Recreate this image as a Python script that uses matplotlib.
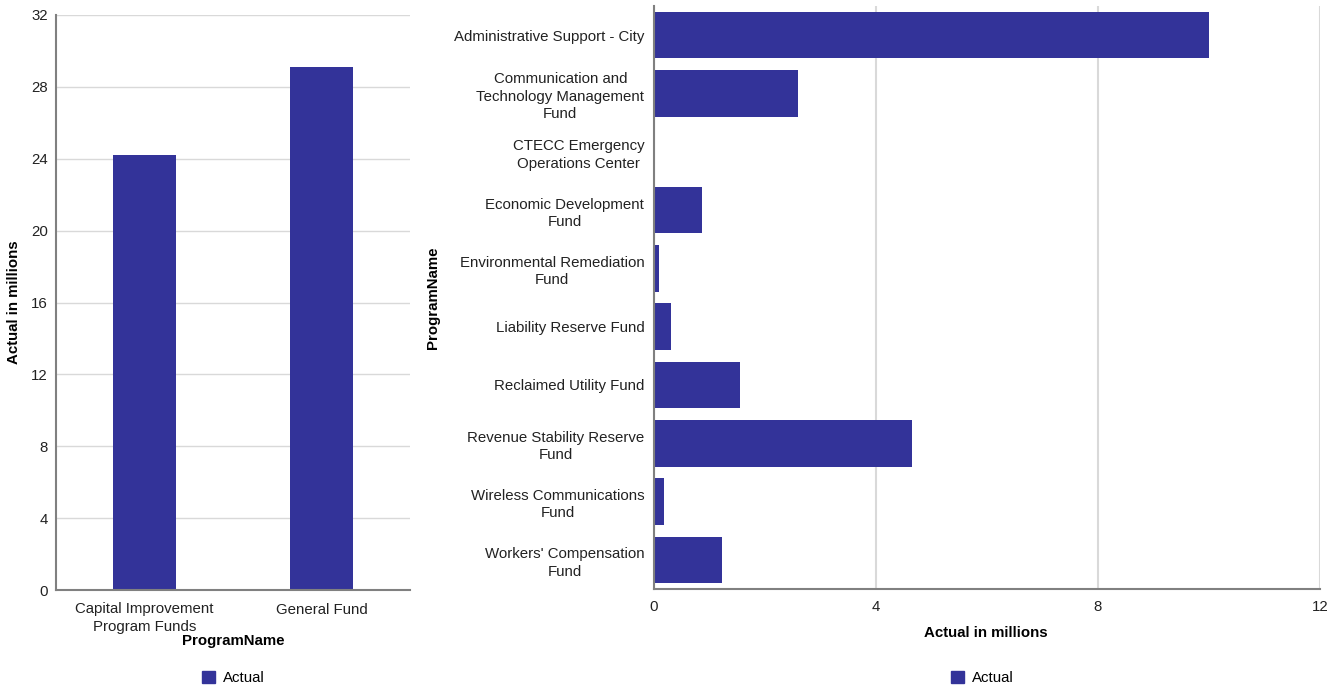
import matplotlib
matplotlib.use("Agg")
import matplotlib.pyplot as plt
from matplotlib.patches import Patch

plt.rcParams['font.family'] = ['Liberation Sans', 'DejaVu Sans']

# Summary by fund group
group_names = ["Capital Improvement\nProgram Funds", "General Fund"]
group_actual = [24.2, 29.1]

# Detail by program
program_names = [
    "Administrative Support - City",
    "Communication and\nTechnology Management\nFund",
    "CTECC Emergency\nOperations Center",
    "Economic Development\nFund",
    "Environmental Remediation\nFund",
    "Liability Reserve Fund",
    "Reclaimed Utility Fund",
    "Revenue Stability Reserve\nFund",
    "Wireless Communications\nFund",
    "Workers' Compensation\nFund",
]
program_actual = [10.0, 2.59, 0.02, 0.865, 0.09, 0.31, 1.55, 4.65, 0.18, 1.225]

left_ticks = [0, 4, 8, 12, 16, 20, 24, 28, 32]
right_ticks = [0, 4, 8, 12]

bar_color = "#333399"
grid_color = "#d9d9d9"
axis_color = "#808080"
fs = 10.8
ls = 1.3

fig = plt.figure(figsize=(13.38, 6.88), dpi=100)
W, H = 1338, 688

# Left: vertical bar chart
ax1 = fig.add_axes([56 / W, 1 - 590 / H, 354 / W, 575 / H])
ax1.bar(range(len(group_names)), group_actual, width=0.36, color=bar_color, zorder=3)
ax1.set_xlim(-0.5, len(group_names) - 0.5)
ax1.set_ylim(0, 32)
ax1.set_yticks(left_ticks)
ax1.set_xticks(range(len(group_names)))
ax1.set_xticklabels(group_names, fontsize=fs, linespacing=ls)
ax1.tick_params(axis='both', length=0, labelsize=fs, colors="#222222")
ax1.tick_params(axis='y', pad=6)
ax1.tick_params(axis='x', pad=9)
ax1.yaxis.grid(True, color=grid_color, linewidth=1, zorder=0)
for s in ["top", "right"]:
    ax1.spines[s].set_visible(False)
for s in ["left", "bottom"]:
    ax1.spines[s].set_color(axis_color)
    ax1.spines[s].set_linewidth(1.5)
    ax1.spines[s].set_zorder(4)
ax1.set_ylabel("Actual in millions", fontsize=fs, fontweight="bold")
ax1.yaxis.set_label_coords((21 - 56) / 354, 0.5)
ax1.set_xlabel("ProgramName", fontsize=fs, fontweight="bold")
ax1.xaxis.set_label_coords(0.5, -(634 - 590) / 575)
ax1.legend(handles=[Patch(color=bar_color, label="Actual")], loc="center",
           bbox_to_anchor=(0.5, -(678 - 590) / 575), frameon=False, fontsize=fs,
           handlelength=0.9, handleheight=0.9, handletextpad=0.5)

# Right: horizontal bar chart
ax2 = fig.add_axes([654 / W, 1 - 589 / H, 666 / W, 583 / H])
ypos = list(range(len(program_names)))
ax2.barh(ypos, program_actual, height=0.8, color=bar_color, zorder=3)
ax2.set_ylim(len(program_names) - 0.5, -0.5)
ax2.set_xlim(0, 12)
ax2.set_xticks(right_ticks)
ax2.set_yticks(ypos)
ax2.set_yticklabels(program_names, fontsize=fs, linespacing=ls)
for lbl in ax2.get_yticklabels():
    lbl.set_multialignment("center")
ax2.tick_params(axis='both', length=0, labelsize=fs, colors="#222222")
ax2.tick_params(axis='y', pad=7)
ax2.tick_params(axis='x', pad=8)
ax2.xaxis.grid(True, color=grid_color, linewidth=1.5, zorder=0)
for s in ["top", "right"]:
    ax2.spines[s].set_visible(False)
for s in ["left", "bottom"]:
    ax2.spines[s].set_color(axis_color)
    ax2.spines[s].set_linewidth(1.5)
    ax2.spines[s].set_zorder(4)
ax2.set_xlabel("Actual in millions", fontsize=fs, fontweight="bold")
ax2.xaxis.set_label_coords(0.5 - 1 / 666, -(626 - 589) / 583)
ax2.set_ylabel("ProgramName", fontsize=fs, fontweight="bold")
ax2.yaxis.set_label_coords((440 - 654) / 666, 0.5)
ax2.legend(handles=[Patch(color=bar_color, label="Actual")], loc="center",
           bbox_to_anchor=(0.5 - 5 / 666, -(678 - 589) / 583), frameon=False, fontsize=fs,
           handlelength=0.9, handleheight=0.9, handletextpad=0.5)

fig.savefig("out.png", dpi=100, facecolor="white")
